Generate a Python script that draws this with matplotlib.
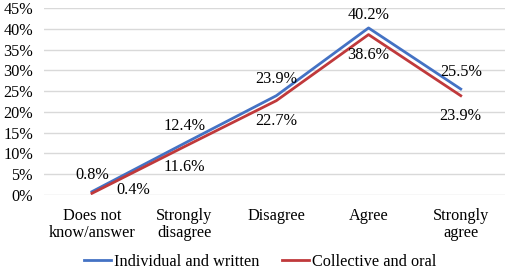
import matplotlib.pyplot as plt
import numpy as np

categories = ['Does not\nknow/answer', 'Strongly\ndisagree', 'Disagree', 'Agree', 'Strongly\nagree']
individual = [0.8, 12.4, 23.9, 40.2, 25.5]
collective = [0.4, 11.6, 22.7, 38.6, 23.9]
yticks = [0, 5, 10, 15, 20, 25, 30, 35, 40, 45]

plt.rcParams['font.family'] = ['Liberation Serif', 'DejaVu Serif']
fs = 11.7

fig = plt.figure(figsize=(5.1, 2.7), dpi=100)
ax = fig.add_axes([44/510, 1-195/270, 461/510, 187/270])

x = np.arange(len(categories))
ax.plot(x, individual, color='#4472C4', lw=2.0, label='Individual and written', zorder=3)
ax.plot(x, collective, color='#C0393B', lw=2.0, label='Collective and oral', zorder=3)

# labels: blue above, red below (first red one sits to the right)
for i, v in enumerate(individual):
    dy = 13 if i == 3 else 17
    ax.annotate(f'{v}%', (x[i], v), xytext=(0, dy), textcoords='offset pixels',
                ha='center', va='center', fontsize=fs)
for i, v in enumerate(collective):
    if i == 0:
        ax.annotate(f'{v}%', (x[i], v), xytext=(41, 3), textcoords='offset pixels',
                    ha='center', va='center', fontsize=fs)
    else:
        ax.annotate(f'{v}%', (x[i], v), xytext=(0, -20), textcoords='offset pixels',
                    ha='center', va='center', fontsize=fs)

ax.set_xlim(-0.52, 4.48)
ax.set_ylim(0, 45)
ax.set_yticks(yticks)
ax.set_yticklabels([f'{t}%' for t in yticks], fontsize=fs)
ax.set_xticks(x)
ax.set_xticklabels(categories, fontsize=fs, linespacing=1.15)
ax.tick_params(axis='both', length=0)
ax.tick_params(axis='y', pad=8)
ax.tick_params(axis='x', pad=9)
ax.grid(axis='y', color='#D9D9D9', lw=1.0)
ax.set_axisbelow(True)
for s in ax.spines.values():
    s.set_visible(False)

fig.legend(*ax.get_legend_handles_labels(), loc='center',
           bbox_to_anchor=(260/510, 1-262/270), ncol=2, frameon=False,
           fontsize=fs, handlelength=1.7, handletextpad=0.15, columnspacing=1.4)

fig.savefig('out.png', dpi=100)
